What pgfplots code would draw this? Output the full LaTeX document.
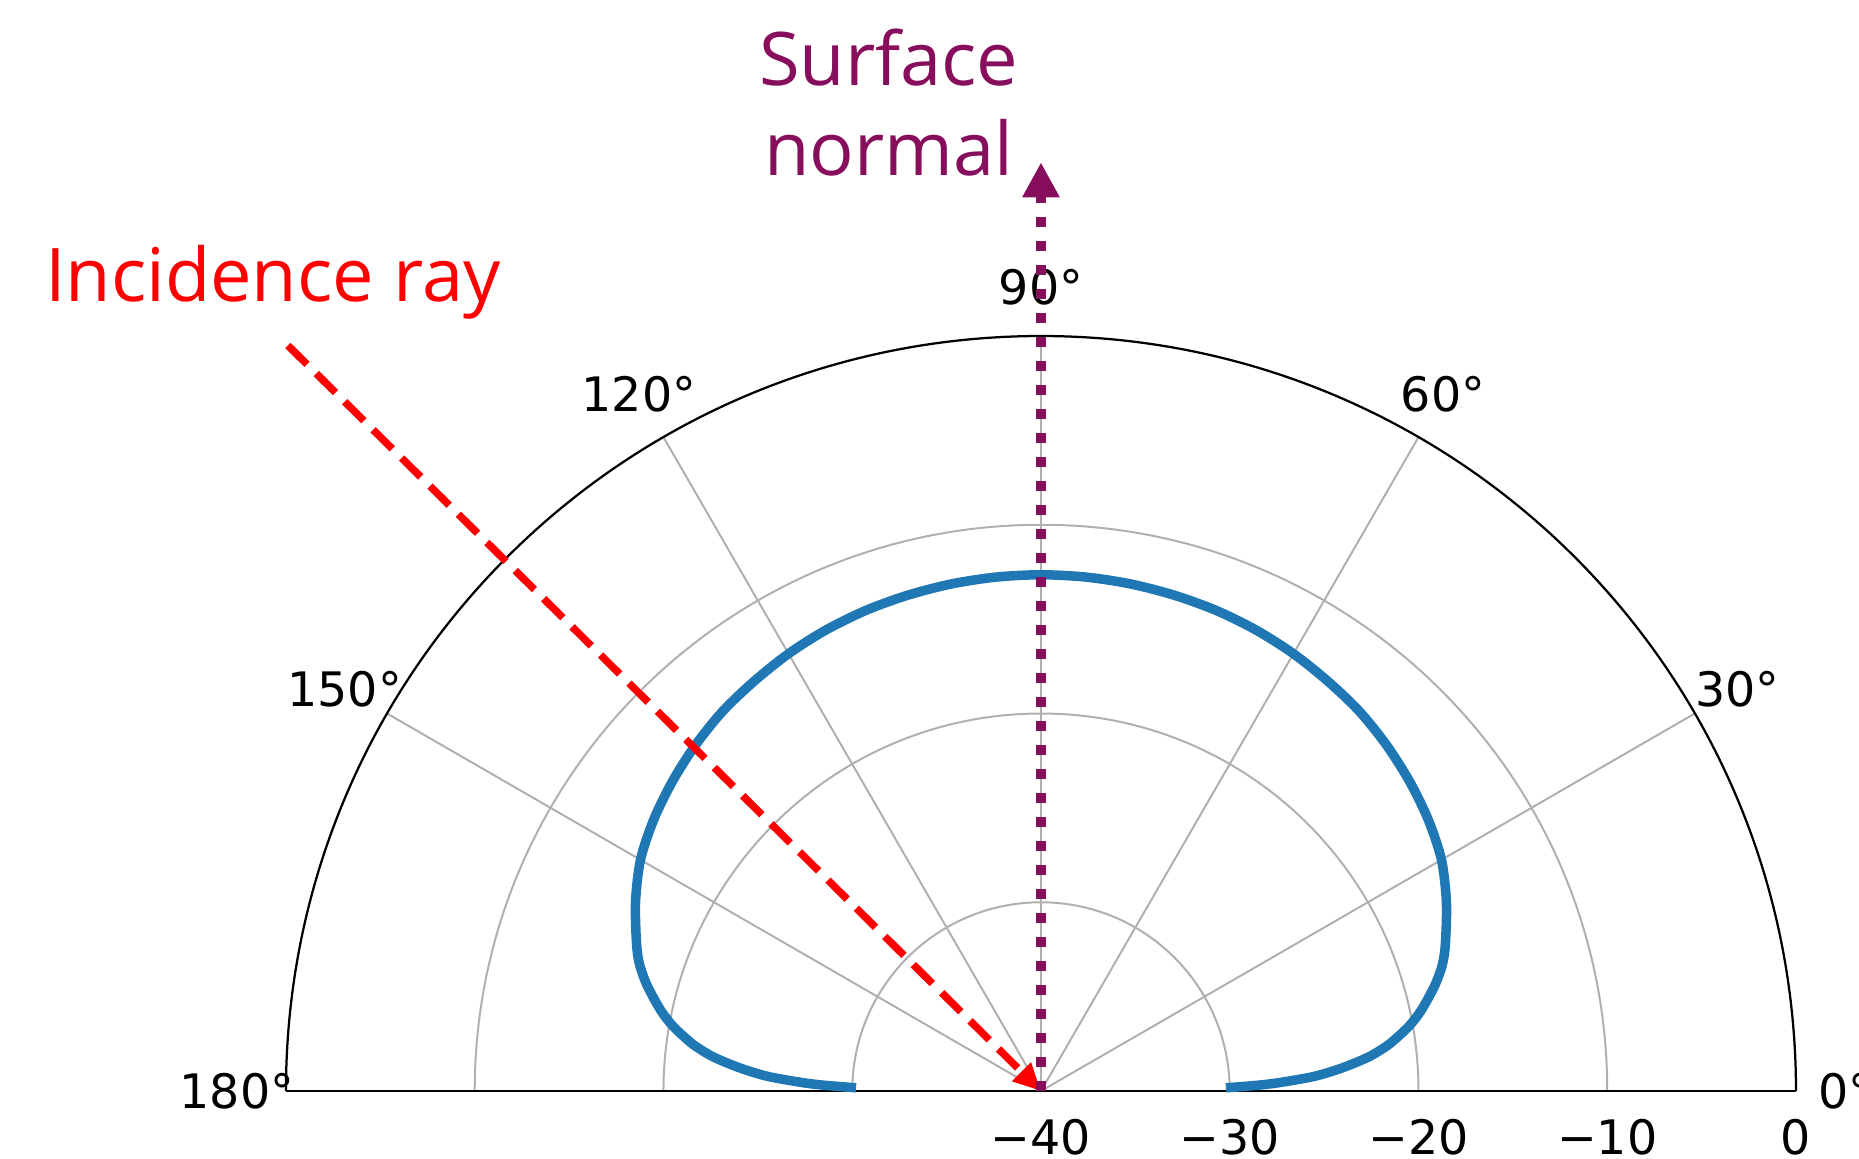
\documentclass[border=0pt]{standalone}
\usepackage{pgfplots}
\pgfplotsset{compat=1.18}
\usepackage{pgfplotstable}
\usepackage{fontspec}
\setmainfont{DejaVu Sans}
\newfontfamily\annotfont{Open Sans}
\usetikzlibrary{arrows.meta}
\definecolor{mplblue}{HTML}{1F77B4}
\definecolor{normalpurple}{RGB}{134,14,92}
\definecolor{gridgray}{RGB}{176,176,176}

\pgfplotstableread{
deg db
1 -30.2
1.5 -28.6
2 -27.4
3 -25.6
4 -24.4
5 -23.4
6 -22.5
7 -21.8
8 -21.2
10 -20.2
12 -19.4
15 -18.4
17.5 -17.7
20 -17.2
25 -16.3
30 -15.5
35 -14.95
40 -14.5
45 -14.1
50 -13.75
55 -13.5
60 -13.25
65 -13.05
70 -12.9
75 -12.8
80 -12.72
85 -12.67
90 -12.65
95 -12.67
100 -12.72
105 -12.8
110 -12.9
115 -13.05
120 -13.25
125 -13.5
130 -13.75
135 -14.1
140 -14.5
145 -14.95
150 -15.5
155 -16.3
160 -17.2
162.5 -17.7
165 -18.4
168 -19.4
170 -20.2
172 -21.2
173 -21.8
174 -22.5
175 -23.4
176 -24.4
177 -25.6
178 -27.4
178.5 -28.6
179 -30.2
}\radpattern

\begin{document}
\begin{tikzpicture}
\begin{axis}[
  width=371.8pt, height=231.8pt, scale only axis,
  xmin=-55.15, xmax=43.34, ymin=-3.6, ymax=57.8,
  hide axis, clip=false]
% grid rings
\draw[gridgray, line width=0.4pt] (axis cs:10,0) arc[start angle=0, end angle=180, radius=37.75pt];
\draw[gridgray, line width=0.4pt] (axis cs:20,0) arc[start angle=0, end angle=180, radius=75.5pt];
\draw[gridgray, line width=0.4pt] (axis cs:30,0) arc[start angle=0, end angle=180, radius=113.25pt];
% spokes
\draw[gridgray, line width=0.4pt] (axis cs:0,0) -- (axis cs:34.641,20);
\draw[gridgray, line width=0.4pt] (axis cs:0,0) -- (axis cs:20,34.641);
\draw[gridgray, line width=0.4pt] (axis cs:0,0) -- (axis cs:0,40);
\draw[gridgray, line width=0.4pt] (axis cs:0,0) -- (axis cs:-20,34.641);
\draw[gridgray, line width=0.4pt] (axis cs:0,0) -- (axis cs:-34.641,20);
% spine
\draw[black, line width=0.45pt] (axis cs:40,0) arc[start angle=0, end angle=180, radius=151pt];
\draw[black, line width=0.45pt] (axis cs:-40,0) -- (axis cs:40,0);
% angle labels
\begin{scope}[font=\fontsize{9.5}{11}\selectfont]
\node at (axis cs:42.6,0) {0°};
\node at (axis cs:36.893,21.3) {30°};
\node at (axis cs:21.3,36.893) {60°};
\node at (axis cs:0,42.6) {90°};
\node at (axis cs:-21.3,36.893) {120°};
\node at (axis cs:-36.893,21.3) {150°};
\node at (axis cs:-42.6,0) {180°};
\node at (axis cs:0,-2.45) {−40};
\node at (axis cs:10,-2.45) {−30};
\node at (axis cs:20,-2.45) {−20};
\node at (axis cs:30,-2.45) {−10};
\node at (axis cs:40,-2.45) {0};
\end{scope}
% pattern
\addplot[mplblue, line width=1.9pt, line join=round, line cap=butt, no markers, smooth, tension=0.5]
  table[x expr={(\thisrow{db}+40)*cos(\thisrow{deg})}, y expr={(\thisrow{db}+40)*sin(\thisrow{deg})}] {\radpattern};
% incidence ray
\draw[red, line width=1.5pt, dash pattern=on 5.4pt off 2.6pt, -{Triangle[length=5.5pt,width=5pt]}]
  (axis cs:-39.9,39.5) -- (axis cs:0,0);
% surface normal
\draw[normalpurple, line width=2pt, dash pattern=on 2pt off 2.8pt, -{Triangle[length=7pt,width=7pt]}]
  (axis cs:0,0) -- (axis cs:0,49.2);
\node[anchor=base, text=red, font=\annotfont\fontsize{14.8}{17.8}\selectfont] at (axis cs:-40.7,41.85) {Incidence ray};
\node[anchor=base, text=normalpurple, font=\annotfont\fontsize{14.8}{17.8}\selectfont] at (axis cs:-8.07,53.28) {Surface};
\node[anchor=base, text=normalpurple, font=\annotfont\fontsize{14.8}{17.8}\selectfont] at (axis cs:-8.07,48.5) {normal};
\end{axis}
\pgfresetboundingbox
\useasboundingbox (current axis.south west) rectangle (current axis.north east);
\end{tikzpicture}
\end{document}
